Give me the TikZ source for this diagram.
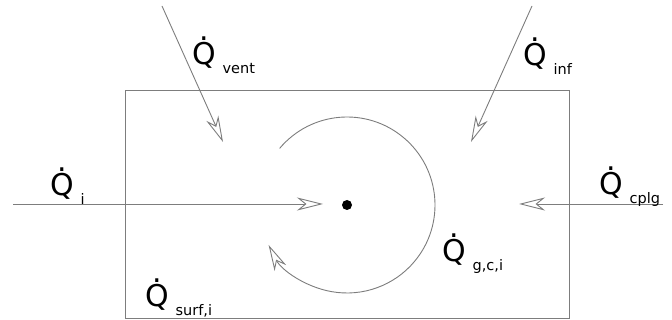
\documentclass[tikz,border=0pt]{standalone}
\usepackage{fontspec}
\setmainfont{DejaVu Sans}
\usetikzlibrary{arrows.meta}
\definecolor{wire}{RGB}{125,125,125}
\newcommand{\heatlabel}[1]{{\fontsize{30}{30}\selectfont\rlap{\hspace{0.25em}\raisebox{0.82em}{.}}Q}\hspace{7pt}\raisebox{-9pt}{\fontsize{14.5}{15}\selectfont #1}}

\begin{document}
\begin{tikzpicture}[
  x=1pt, y=-1pt,
  flow/.style={wire, line width=0.9pt, -{Stealth[open, length=26pt, width=13pt, inset=8pt]}},
  qlabel/.style={anchor=base west, inner sep=0pt, outer sep=0pt},
  point/.style={circle, fill=black, inner sep=0pt, minimum size=10pt}
]
\useasboundingbox (0,0) rectangle (672,320);
% zone boundary
\draw[wire, line width=0.9pt] (125,90) rectangle (569,318);
\node[point] (air) at (347,205) {};

% incoming flows
\coordinate (ventin) at (162,6);
\coordinate (venttip) at (223,142);
\coordinate (infin) at (532,6);
\coordinate (inftip) at (471,142);
\coordinate (iin) at (13,204);
\coordinate (itip) at (323,204);
\coordinate (cplgin) at (663,204);
\coordinate (cplgtip) at (519,204);
\draw[flow] (ventin) -- (venttip);
\draw[flow] (infin) -- (inftip);
\draw[flow] (iin) -- (itip);
\draw[flow] (cplgin) -- (cplgtip);

% convective gain circling the air node
\draw[flow] ([shift={(-140:88)}]air.center) arc[start angle=-140, end angle=153, radius=88];

% labels
\node[qlabel] (qvent) at (192,65) {\heatlabel{vent}};
\node[qlabel] (qinf) at (523,66) {\heatlabel{inf}};
\node[qlabel] (qi) at (50,196) {\heatlabel{i}};
\node[qlabel] (qcplg) at (599,195) {\heatlabel{cplg}};
\node[qlabel] (qgci) at (442,262) {\heatlabel{g,c,i}};
\node[qlabel] (qsurf) at (145,307) {\heatlabel{surf,i}};
\end{tikzpicture}
\end{document}
